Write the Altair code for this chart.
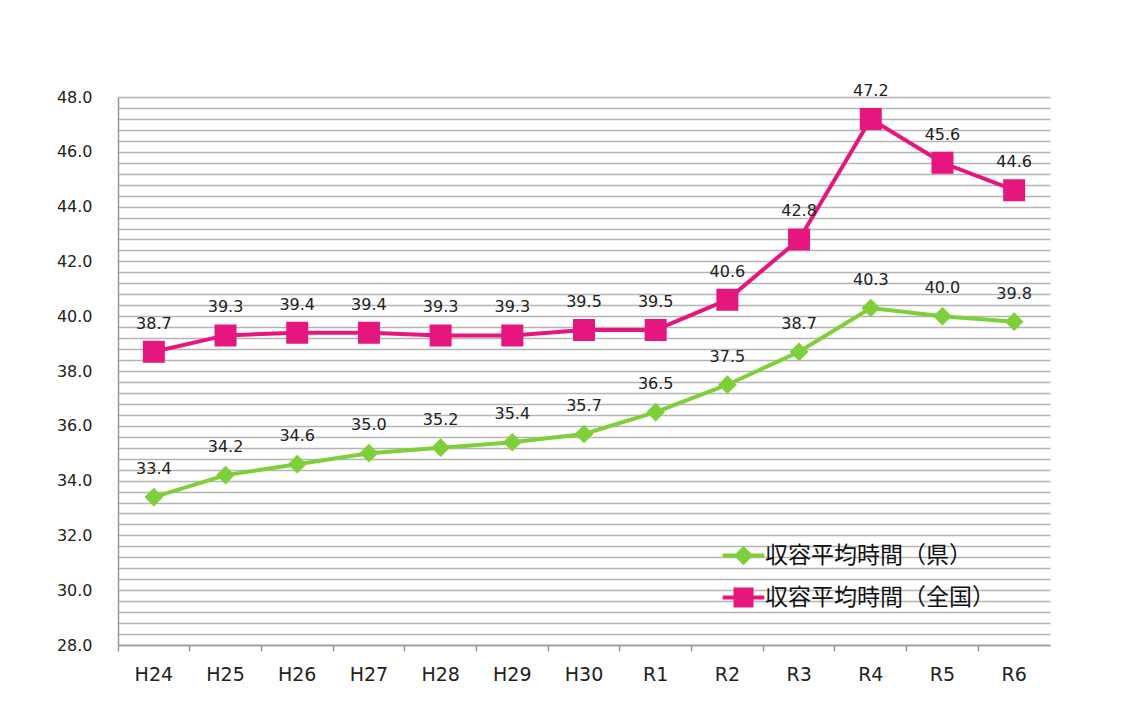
import altair as alt
import pandas as pd

years = ["H24", "H25", "H26", "H27", "H28", "H29", "H30", "R1", "R2", "R3", "R4", "R5", "R6"]
pref = [33.4, 34.2, 34.6, 35.0, 35.2, 35.4, 35.7, 36.5, 37.5, 38.7, 40.3, 40.0, 39.8]
national = [38.7, 39.3, 39.4, 39.4, 39.3, 39.3, 39.5, 39.5, 40.6, 42.8, 47.2, 45.6, 44.6]
series_names = ["収容平均時間（県）", "収容平均時間（全国）"]
colors = ["#7ed03a", "#e5177f"]
y_ticks = [round(28 + 0.4 * i, 1) for i in range(51)]

# custom symbol paths: marker (filled) + horizontal segment (only stroked in legend)
diamond_path = "M-2.6,0H2.6M0,-0.85L0.85,0L0,0.85L-0.85,0Z"
square_path = "M-2.6,0H2.6M-1,-1H1V1H-1Z"

rows = []
for name, vals in zip(series_names, [pref, national]):
    for y, v in zip(years, vals):
        rows.append({"year": y, "series": name, "value": v})
df = pd.DataFrame(rows)

x = alt.X(
    "year:N",
    sort=years,
    scale=alt.Scale(type="band", paddingInner=0, paddingOuter=0),
    axis=alt.Axis(
        title=None, labelAngle=0, bandPosition=0,
        tickSize=6, tickColor="#999999", tickWidth=1.5,
        domainColor="#999999", domainWidth=1.5,
        labelFont="DejaVu Sans", labelFontSize=19, labelColor="#222222",
        labelPadding=14, grid=False,
    ),
)
y = alt.Y(
    "value:Q",
    scale=alt.Scale(domain=[28, 48], nice=False, zero=False),
    axis=alt.Axis(
        title=None, values=y_ticks, ticks=False,
        labelExpr="abs(datum.value - round(datum.value/2)*2) < 0.01 ? format(datum.value, '.1f') : ''",
        labelFont="DejaVu Sans", labelFontSize=16, labelColor="#222222",
        labelPadding=26, grid=True, gridColor="#b4b4b4", gridWidth=1.5,
        domainColor="#999999", domainWidth=1.5,
    ),
)

legend = alt.Legend(
    title=None, orient="none", legendX=614, legendY=447,
    labelFont="Noto Sans CJK JP", labelFontSize=23, labelColor="#111111",
    labelLimit=0, symbolSize=256, symbolStrokeWidth=4, symbolOpacity=1,
    labelOffset=10, rowPadding=10,
)

stroke = alt.Stroke("series:N", sort=series_names,
                    scale=alt.Scale(domain=series_names, range=colors), legend=legend)
fill = alt.Fill("series:N", sort=series_names,
                scale=alt.Scale(domain=series_names, range=colors), legend=legend)
shape = alt.Shape("series:N", sort=series_names,
                  scale=alt.Scale(domain=series_names, range=[diamond_path, square_path]), legend=legend)

base = alt.Chart(df)
lines = base.mark_line(strokeWidth=4).encode(x=x, y=y, stroke=stroke)
points = base.mark_point(filled=True, size=484, opacity=1).encode(x=x, y=y, fill=fill, shape=shape)
labels = base.mark_text(dy=-28, fontSize=16, font="DejaVu Sans", color="#222222").encode(
    x=x, y=y, text=alt.Text("value:Q", format=".1f")
)

chart = alt.layer(lines, points, labels).properties(
    width=932, height=548,
    autosize=alt.AutoSizeParams(type="none"),
    padding={"left": 110, "top": 89, "right": 78, "bottom": 51},
).configure_view(stroke=None)

chart.save("out.html", embed_options={"renderer": "svg", "actions": False})
